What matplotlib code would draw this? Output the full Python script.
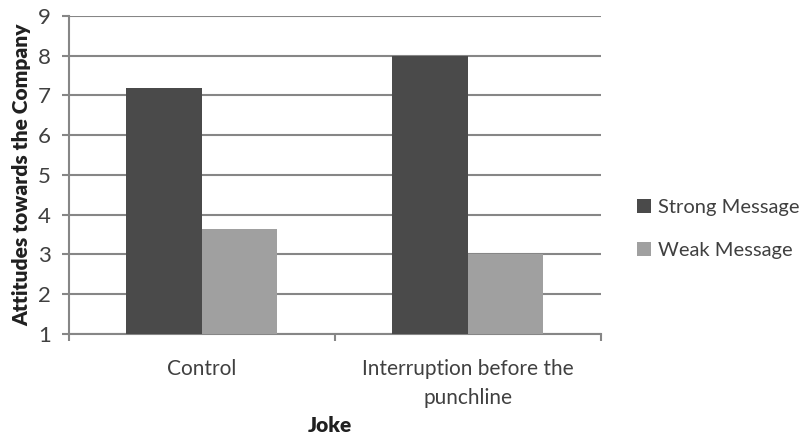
import numpy as np
import matplotlib
matplotlib.use("Agg")
import matplotlib.pyplot as plt

plt.rcParams['font.family'] = ['Lato', 'DejaVu Sans']

categories = ["Control", "Interruption before the\npunchline"]
series_names = ["Strong Message", "Weak Message"]
strong = [7.2, 8.0]
weak = [3.65, 3.0]
colors = ["#4a4a4a", "#a0a0a0"]
text_color = "#404040"
grid_color = "#868686"

fig = plt.figure(figsize=(8.07, 4.37), dpi=100)
ax = fig.add_axes([0.0855, 0.2357, 0.659, 0.7277])

x = np.arange(len(categories))
width = 0.284
base = 1
ax.bar(x - width / 2, np.array(strong) - base, width, bottom=base,
       color=colors[0], label=series_names[0], zorder=3)
ax.bar(x + width / 2, np.array(weak) - base, width, bottom=base,
       color=colors[1], label=series_names[1], zorder=3)

ax.set_xlim(-0.5, 1.5)
ax.set_ylim(1, 9)
ax.set_yticks(range(1, 10))
ax.yaxis.grid(True, color=grid_color, linewidth=1.5, zorder=0)
ax.set_axisbelow(True)

for side in ["top", "right"]:
    ax.spines[side].set_visible(False)
for side in ["left", "bottom"]:
    ax.spines[side].set_color(grid_color)
    ax.spines[side].set_linewidth(1.5)

# category labels centred, ticks at category boundaries
ax.set_xticks([-0.5, 0.5, 1.5])
ax.set_xticklabels([])
ax.set_xticks(x, minor=True)
ax.set_xticklabels(categories, minor=True, fontsize=15, color=text_color,
                   linespacing=1.55)
ax.tick_params(axis="x", which="minor", length=0, pad=18)
ax.tick_params(axis="x", which="major", length=5, width=1.5, color=grid_color)
ax.tick_params(axis="y", length=5, width=1.5, color=grid_color,
               labelsize=16, labelcolor=text_color, pad=8)

ax.set_ylabel("Attitudes towards the Company", fontsize=15, fontweight="heavy",
              color="#202020", labelpad=5)
ax.set_xlabel("Joke", fontsize=15, fontweight="heavy", color="#202020")
ax.xaxis.set_label_coords(0.49, -0.258)

ax.legend(loc="center left", bbox_to_anchor=(1.034, 0.33), frameon=False,
          fontsize=14.5, handlelength=0.7, handleheight=0.7, handletextpad=0.35,
          labelspacing=1.3, labelcolor=text_color)

fig.savefig("out.png", dpi=100)
